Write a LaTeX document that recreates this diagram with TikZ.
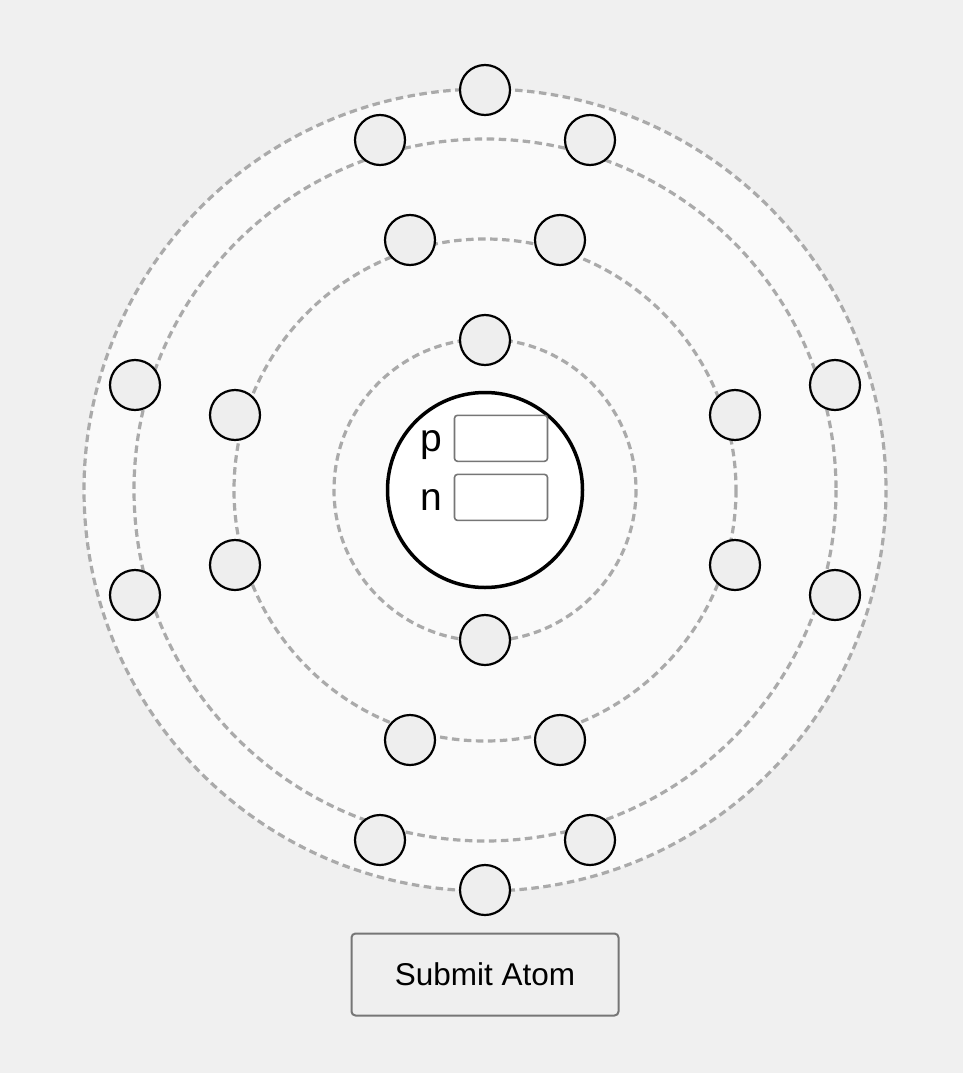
\documentclass[tikz,border=0pt]{standalone}
\usepackage{fontspec}
\setmainfont{Liberation Sans}
\definecolor{bg}{HTML}{F0F0F0}
\definecolor{atomfill}{HTML}{FAFAFA}
\definecolor{orbitcol}{HTML}{AAAAAA}
\definecolor{elfill}{HTML}{EEEEEE}
\definecolor{boxborder}{HTML}{767676}
\definecolor{btnfill}{HTML}{EFEFEF}
\tikzset{
  orbit/.style={draw=orbitcol, line width=3.2pt, dash pattern=on 7.5pt off 4.5pt},
  electron/.style={circle, draw=black, fill=elfill, line width=2.2pt, minimum size=50pt, inner sep=0pt},
  inbox/.style={draw=boxborder, fill=white, line width=1.6pt, rounded corners=3pt, minimum width=93pt, minimum height=46pt, inner sep=0pt},
  lbl/.style={font=\fontsize{39}{41}\selectfont, anchor=base, inner sep=0pt},
  btn/.style={draw=boxborder, fill=btnfill, line width=2pt, rounded corners=4pt, minimum width=267pt, minimum height=82pt, inner sep=0pt, font=\fontsize{31.5}{34}\selectfont}
}
\begin{document}
\begin{tikzpicture}[x=1pt,y=-1pt]
\fill[bg] (0,0) rectangle (963,1073);
\useasboundingbox (0,0) rectangle (963,1073);
\coordinate (c) at (485,490);
% atom background and orbits
\fill[atomfill] (c) circle[radius=401];
\draw[orbit] (c) circle[radius=401];
\draw[orbit] (c) circle[radius=351];
\draw[orbit] (c) circle[radius=251];
\draw[orbit] (c) circle[radius=151];
% nucleus
\node[circle, draw=black, fill=white, line width=3.5pt, minimum size=195pt, inner sep=0pt] (nuc) at (c) {};
\node[lbl] (plbl) at (431.5,451) {p};
\node[lbl] (nlbl) at (431.5,510) {n};
\node[inbox] (pbox) at (501,438.3) {};
\node[inbox] (nbox) at (501,497.4) {};
% electrons: shell 1
\node[electron] (e1a) at (485,340) {};
\node[electron] (e1b) at (485,640) {};
% shell 2
\node[electron] (e2a) at (410,240) {};
\node[electron] (e2b) at (560,240) {};
\node[electron] (e2c) at (235,415) {};
\node[electron] (e2d) at (735,415) {};
\node[electron] (e2e) at (235,565) {};
\node[electron] (e2f) at (735,565) {};
\node[electron] (e2g) at (410,740) {};
\node[electron] (e2h) at (560,740) {};
% shell 3
\node[electron] (e3a) at (380,140) {};
\node[electron] (e3b) at (590,140) {};
\node[electron] (e3c) at (135,385) {};
\node[electron] (e3d) at (835,385) {};
\node[electron] (e3e) at (135,595) {};
\node[electron] (e3f) at (835,595) {};
\node[electron] (e3g) at (380,840) {};
\node[electron] (e3h) at (590,840) {};
% shell 4
\node[electron] (e4a) at (485,90) {};
\node[electron] (e4b) at (485,890) {};
% submit button
\node[btn] (submit) at (485,974.5) {Submit Atom};
\end{tikzpicture}
\end{document}
